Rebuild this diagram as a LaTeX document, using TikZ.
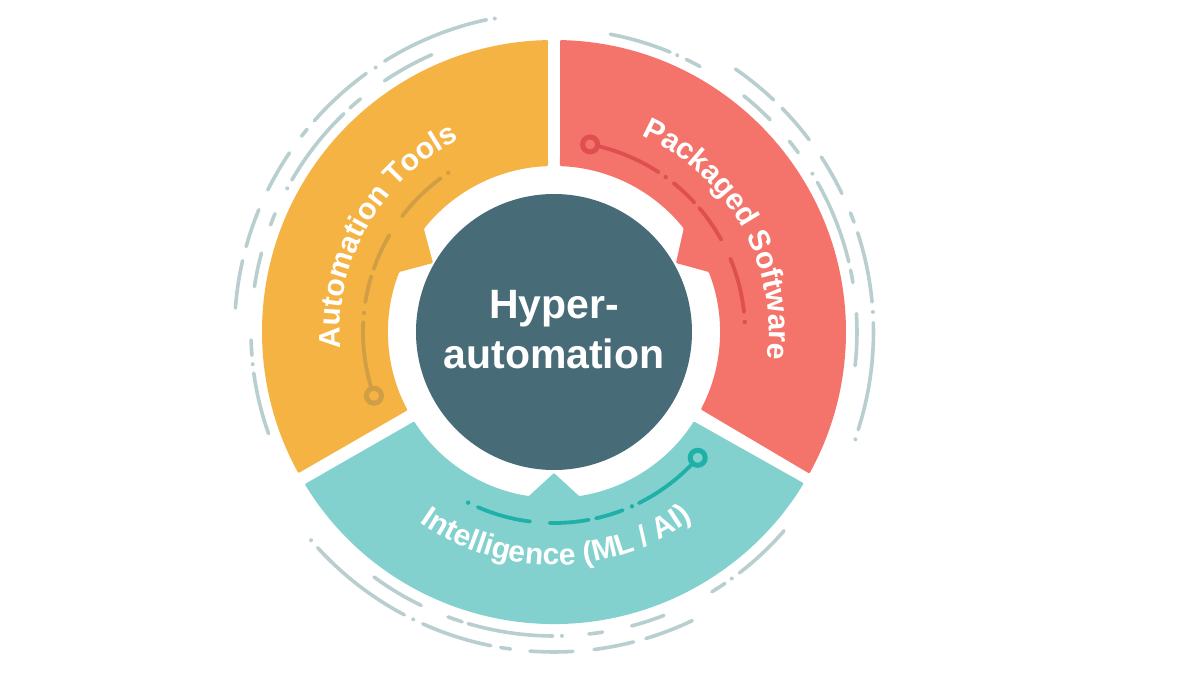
\documentclass[tikz,border=0pt]{standalone}
\usepackage{fontspec}
\setmainfont{Liberation Sans}
\usetikzlibrary{decorations.text}
\definecolor{orangeseg}{HTML}{F4B342}
\definecolor{redseg}{HTML}{F4746B}
\definecolor{tealseg}{HTML}{82D1CF}
\definecolor{hubcol}{HTML}{476B77}
\definecolor{ringcol}{HTML}{B9CFCF}
\definecolor{orangearc}{HTML}{CF9E45}
\definecolor{redarc}{HTML}{DE4F4F}
\definecolor{tealarc}{HTML}{1FB0A8}
\newcommand{\arctxt}{\fontsize{30}{30}\selectfont\bfseries}
\tikzset{
  seg/.style={fill=#1,draw=none,rounded corners=1pt},
  dashline/.style={draw=#1,line width=3.8pt,line cap=round},
  ringline/.style={draw=ringcol,line width=3.6pt,line cap=round},
  pin/.style={circle,draw=#1,line width=5pt,minimum size=15pt,inner sep=0pt},
  curved/.style={decorate,decoration={text along path,text={#1},text align=center,text color=white}}
}
\begin{document}
\begin{tikzpicture}[x=1pt,y=1pt]
\useasboundingbox (-554,-343) rectangle (646,332);
\fill[white] (-554,-343) rectangle (646,332);
% segments
\path[seg=orangeseg] (91.2:292) arc[start angle=91.2,end angle=208.9,radius=292]
  -- (208.1:166) arc[start angle=208.1,end angle=158.8,radius=166]
  -- (-121,69) -- (141.6:166) arc[start angle=141.6,end angle=92.07,radius=166] -- cycle;
\path[seg=redseg] (88.8:292) arc[start angle=88.8,end angle=-29,radius=292]
  -- (-27.8:166) arc[start angle=-27.8,end angle=21.2,radius=166]
  -- (122,69) -- (38.6:166) arc[start angle=38.6,end angle=87.93,radius=166] -- cycle;
\path[seg=tealseg] (211.4:292) arc[start angle=211.4,end angle=328.8,radius=292]
  -- (327.4:166) arc[start angle=327.4,end angle=278.7,radius=166]
  -- (0,-141) -- (261.3:166) arc[start angle=261.3,end angle=212.6,radius=166] -- cycle;
% hub
\node[circle,fill=hubcol,minimum size=276pt,inner sep=0pt] (hub) at (0,0) {};
\node[align=center,text=white,font=\fontsize{41}{50}\selectfont\bfseries,inner sep=0pt] (hubtext) at (0,2) {Hyper-\\automation};
% outer rings
\foreach \r/\a/\b in {
 319.5/102.2/122, 319.5/126/138.6, 319.5/140.6/142.2, 319.5/145.9/153.6, 319.5/157.5/164.5, 319.5/167.1/175.7,
 303/113.8/124, 303/129.7/132.3, 303/133.9/149.9, 303/157/159.3, 303/164.9/171.4, 303/181.5/184.4, 303/187.8/199.6,
 303/79.3/67.5, 303/64.1/61.2, 303/51.2/44.5, 303/39/36.3, 303/29.6/13.4, 303/11.8/9.4, 303/3.5/-6.4,
 319.5/55.4/46.6, 319.5/44.4/37, 319.5/33.2/25.7, 319.5/21.9/20.1, 319.5/18.1/5.4, 319.5/1.7/-17.8,
 304/-40.8/-52.4, 304/-55.8/-58.7, 304/-68.8/-75.2, 304/-80.8/-83.4, 304/-90.2/-106.4, 304/-107.6/-110.4, 304/-115.9/-126.3,
 320/-64.4/-73.3, 320/-75.6/-82.8, 320/-86.6/-94.3, 320/-97.8/-99.6, 320/-101.4/-114.2, 320/-117.9/-137.6}
 { \draw[ringline] (\a:\r) arc[start angle=\a,end angle=\b,radius=\r]; }
\foreach \r/\a in {319/100.7, 319/124, 303/151.7, 303/186.1, 303/66, 303/31.5, 319.5/3.6, 320/-19.6, 304/-54.2, 304/-88.5, 320/-116.1, 320/-139.4}
 { \fill[ringcol] (\a:\r) circle[radius=2]; }
% inner arcs
\foreach \c/\l in {orangearc/{199.5/177,171/163,160.7/149.5,142.7/126.4},
                   redarc/{79.1/56.8,51.2/42.7,40.5/28.9,22.6/6},
                   tealarc/{-113.5/-97.2,-91.3/-79.5,-77.3/-68.9,-63.6/-41.2}}
 { \foreach \a/\b in \l { \draw[dashline=\c] (\a:191) arc[start angle=\a,end angle=\b,radius=191]; } }
\foreach \c/\a in {orangearc/174.3,orangearc/123.6,redarc/54.2,redarc/3,tealarc/-116.7,tealarc/-65.9}
 { \fill[\c] (\a:191) circle[radius=2.2]; }
\node[pin=orangearc,fill=orangeseg] (pinA) at (199.5:191) {};
\node[pin=redarc,fill=redseg] (pinB) at (79.1:191) {};
\node[pin=tealarc,fill=tealseg] (pinC) at (-41.2:191) {};
% curved labels
\path[curved={|\arctxt|Automation Tools}] (183.4:214) arc[start angle=183.4,end angle=117.2,radius=214];
\path[curved={|\arctxt|Packaged Software}] (66.4:215) arc[start angle=66.4,end angle=-7.5,radius=215];
\path[curved={|\arctxt|Intelligence (ML / AI)}] (-126:233) arc[start angle=-126,end angle=-52.6,radius=233];
\end{tikzpicture}
\end{document}
